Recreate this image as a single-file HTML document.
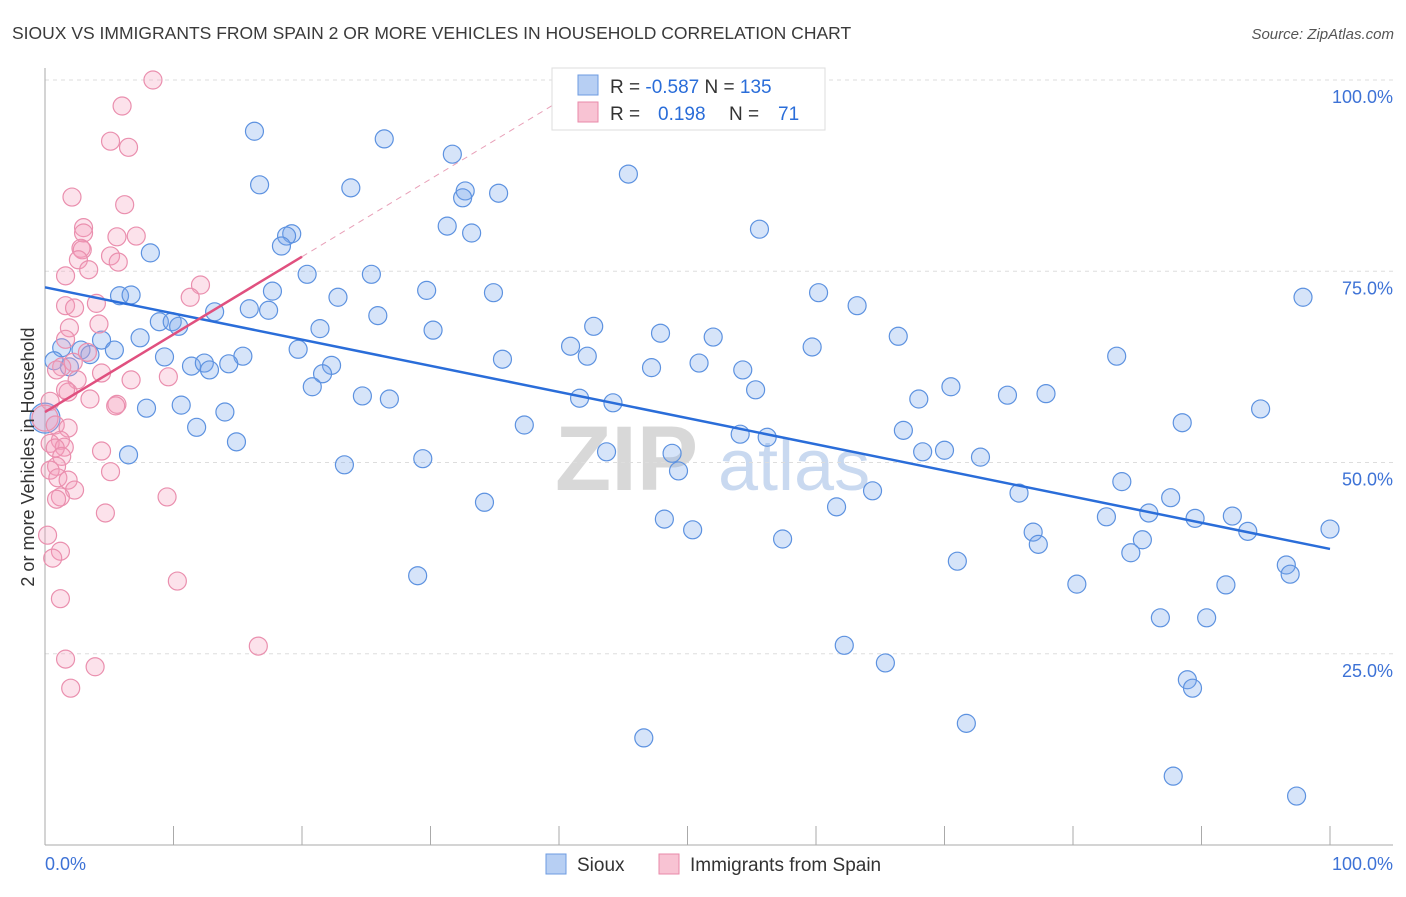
<!DOCTYPE html>
<html><head><meta charset="utf-8"><style>
body{margin:0;background:#fff;font-family:"Liberation Sans",sans-serif;}
svg text{font-family:"Liberation Sans",sans-serif;}
</style></head><body>
<svg id="chart" width="1406" height="892" xmlns="http://www.w3.org/2000/svg">
<text x="12" y="39" font-size="17.5" fill="#3a3a3a">SIOUX VS IMMIGRANTS FROM SPAIN 2 OR MORE VEHICLES IN HOUSEHOLD CORRELATION CHART</text>
<text x="1394" y="39" font-size="15" fill="#555" font-style="italic" text-anchor="end">Source: ZipAtlas.com</text>
<g>
<text x="555" y="490" font-size="92" font-family="Liberation Serif" font-weight="bold" fill="#d8d8d8">ZIP</text>
<text x="718" y="490" font-size="72" fill="#c9d9f0">atlas</text>
</g>
<g id="grid"></g>
<g id="axes"></g>
<g id="pts"></g>
<g id="lines"></g>
<text transform="translate(34,457) rotate(-90)" font-size="18" fill="#333" text-anchor="middle">2 or more Vehicles in Household</text>
<g>
<rect x="552" y="68" width="273" height="62" fill="#fff" stroke="#ddd"/>
<rect x="578" y="75" width="20" height="20" fill="#b7cff3" stroke="#6d9be0"/>
<rect x="578" y="102" width="20" height="20" fill="#f8c3d3" stroke="#e98aa9"/>
<text x="610" y="93" font-size="19" fill="#333">R = <tspan fill="#2a6dd9">-0.587</tspan>   N = <tspan fill="#2a6dd9">135</tspan></text>
<text x="610" y="120" font-size="19" fill="#333">R = <tspan fill="#2a6dd9" x="658">0.198</tspan><tspan x="729">N = </tspan><tspan fill="#2a6dd9" x="778">71</tspan></text>
</g>
<g>
<rect x="546" y="854" width="20" height="20" fill="#b7cff3" stroke="#6d9be0"/>
<text x="577" y="871" font-size="19" fill="#333">Sioux</text>
<rect x="659" y="854" width="20" height="20" fill="#f8c3d3" stroke="#e98aa9"/>
<text x="690" y="871" font-size="19" fill="#333">Immigrants from Spain</text>
</g>
</svg>
<script>
const blueX=[16.3,26.4,31.7,45.4,16.7,23.8,32.7,35.3,32.5,31.3,33.2,55.6,19.2,18.8,18.4,8.2,20.4,25.4,29.7,17.7,34.9,5.8,6.7,22.8,60.2,97.9,15.9,17.4,13.2,63.2,25.9,8.9,9.9,10.4,21.4,30.2,42.7,47.9,52.0,66.4,7.4,1.3,2.8,4.4,5.4,3.5,19.7,40.9,59.7,83.4,9.3,15.4,42.2,35.6,0.7,1.9,11.4,12.4,12.8,14.3,22.3,21.6,47.2,50.9,54.3,20.8,70.5,55.3,24.7,26.8,41.6,44.2,68.0,74.9,77.9,7.9,10.6,14.0,94.6,0,37.3,88.5,11.8,54.1,56.2,66.8,14.9,6.5,43.7,48.8,68.3,70.0,72.8,23.3,29.4,49.3,83.8,64.4,75.8,34.2,61.6,87.6,85.9,82.6,48.2,89.5,92.4,50.4,76.9,77.3,93.6,100,57.4,85.4,84.5,71.0,96.6,96.9,29.0,80.3,91.9,86.8,90.4,62.2,65.4,88.9,89.3,71.7,46.6,87.8,97.4];
const blueY=[93.3,92.3,90.3,87.7,86.3,85.9,85.5,85.2,84.6,80.9,80.0,80.5,79.9,79.6,78.3,77.4,74.6,74.6,72.5,72.4,72.2,71.8,71.9,71.6,72.2,71.6,70.1,69.9,69.7,70.5,69.2,68.4,68.4,67.8,67.5,67.3,67.8,66.9,66.4,66.5,66.3,65.0,64.7,66.0,64.7,64.1,64.8,65.2,65.1,63.9,63.8,63.9,63.9,63.5,63.3,62.5,62.6,63.0,62.1,62.9,62.7,61.6,62.4,63.0,62.1,59.9,59.9,59.5,58.7,58.3,58.4,57.8,58.3,58.8,59.0,57.1,57.5,56.6,57.0,55.8,54.9,55.2,54.6,53.7,53.3,54.2,52.7,51.0,51.4,51.2,51.4,51.6,50.7,49.7,50.5,48.9,47.5,46.3,46.0,44.8,44.2,45.4,43.4,42.9,42.6,42.7,43.0,41.2,40.9,39.3,41.0,41.3,40.0,39.9,38.2,37.1,36.6,35.4,35.2,34.1,34.0,29.7,29.7,26.1,23.8,21.6,20.5,15.9,14.0,9.0,6.4];
const pinkX=[8.4,6.0,5.1,6.5,2.1,6.2,3.0,3.0,7.1,5.6,2.8,2.9,5.1,2.6,5.7,3.4,1.6,12.1,11.3,4.0,1.6,2.3,4.2,1.9,1.6,3.3,2.2,1.3,0.9,4.4,2.5,9.6,6.7,1.8,1.6,3.5,5.6,5.5,0.4,0,0.8,1.8,1.2,0.4,1.5,0.8,4.4,1.3,0.9,0.4,1.0,5.1,1.8,2.3,1.2,0.9,9.5,4.7,0.2,1.2,0.6,1.2,16.6,10.3,1.6,3.9,2.0];
const pinkY=[100.0,96.6,92.0,91.2,84.7,83.7,80.7,80.0,79.6,79.5,78.0,77.8,77.0,76.5,76.2,75.2,74.4,73.2,71.6,70.8,70.5,70.2,68.1,67.6,66.1,64.4,63.1,62.5,62.1,61.7,60.8,61.2,60.8,59.2,59.5,58.3,57.6,57.4,58.0,55.8,54.9,54.5,52.9,52.5,52.0,51.9,51.5,50.8,49.5,49.0,48.0,48.8,47.7,46.4,45.5,45.2,45.5,43.4,40.5,38.4,37.5,32.2,26.0,34.5,24.3,23.3,20.5];
const blueTrend=[72.9,38.7];
const pinkTrend=[56.6,76.9];
const yTicks=[25,50,75,100];
const yTickLabels=["25.0%","50.0%","75.0%","100.0%"];
const xTicks=[0,10,20,30,40,50,60,70,80,90,100];

const NS="http://www.w3.org/2000/svg";
const X=v=>45+v*12.85;
const Y=v=>845-v*7.65;
function mk(tag,attrs,parent){const e=document.createElementNS(NS,tag);for(const k in attrs)e.setAttribute(k,attrs[k]);document.getElementById(parent).appendChild(e);return e;}
yTicks.forEach((t,i)=>{
 const g=mk('line',{x1:45,x2:1393,y1:Y(t),y2:Y(t),stroke:'#ddd','stroke-dasharray':'4,4'},'grid');
 
 
 const l=mk('text',{x:1393,y:Y(t)+23,'font-size':18,fill:'#3d72d6','text-anchor':'end'},'grid');
 l.textContent=yTickLabels[i];
 
 
});
const ax=mk('line',{x1:45,x2:45,y1:68,y2:845,stroke:'#aaa'},'axes');


const bx=mk('line',{x1:45,x2:1393,y1:845,y2:845,stroke:'#aaa'},'axes');


xTicks.forEach(t=>{
 const k=mk('line',{x1:X(t),x2:X(t),y1:826,y2:845,stroke:'#aaa'},'axes');
 
 
});
const x0=mk('text',{x:45,y:870,'font-size':18,fill:'#3d72d6'},'axes');x0.textContent='0.0%';


const x1=mk('text',{x:1393,y:870,'font-size':18,fill:'#3d72d6','text-anchor':'end'},'axes');x1.textContent='100.0%';


blueX.forEach((v,i)=>{
 const big=(v===0&&blueY[i]===55.8);
 const c=mk('circle',{cx:X(v),cy:Y(blueY[i]),r:big?15:9,fill:'rgba(120,165,235,0.3)',stroke:'#5d92e0','stroke-width':1.2},'pts');
 
 
});
pinkX.forEach((v,i)=>{
 const big=(v===0&&pinkY[i]===55.8);
 const c=mk('circle',{cx:X(v),cy:Y(pinkY[i]),r:big?13:9,fill:'rgba(245,160,190,0.3)',stroke:'#ea8fae','stroke-width':1.2},'pts');
 
 
});
const bl=mk('line',{x1:X(0),y1:Y(blueTrend[0]),x2:X(100),y2:Y(blueTrend[1]),stroke:'#2a6dd9','stroke-width':2.5},'lines');


const slope=(pinkTrend[1]-pinkTrend[0])/20;
const xEnd=(100-pinkTrend[0])/slope;
const pd=mk('line',{x1:X(20),y1:Y(pinkTrend[1]),x2:X(xEnd),y2:Y(100),stroke:'#e8a0b8','stroke-width':1,'stroke-dasharray':'6,5'},'lines');


const pl=mk('line',{x1:X(0),y1:Y(pinkTrend[0]),x2:X(20),y2:Y(pinkTrend[1]),stroke:'#e0507f','stroke-width':2.5},'lines');


</script>
</body></html>
